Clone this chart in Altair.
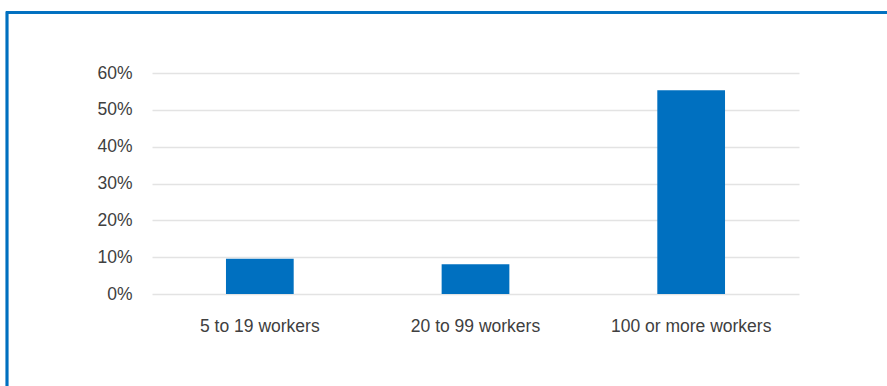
import altair as alt
import pandas as pd

categories = ["5 to 19 workers", "20 to 99 workers", "100 or more workers"]
shares = [0.096, 0.081, 0.553]
tick_values = [0, 0.1, 0.2, 0.3, 0.4, 0.5, 0.6]

df = pd.DataFrame({"category": categories, "share": shares})

BLUE = "#0070C0"
FONT = "Liberation Sans"

bars = alt.Chart(df).mark_bar(color=BLUE).encode(
    x=alt.X("category:N", sort=categories,
            scale=alt.Scale(paddingInner=0.686, paddingOuter=0.343),
            axis=alt.Axis(title=None, labelAngle=0, domain=False, ticks=False,
                          grid=False, labelPadding=23, labelFontSize=17.5,
                          labelFont=FONT, labelColor="#404040")),
    y=alt.Y("share:Q", scale=alt.Scale(domain=[0, 0.6], nice=False),
            axis=alt.Axis(title=None, format=".0%", values=tick_values,
                          domain=False, ticks=False, labelPadding=20,
                          labelFontSize=17.5, labelFont=FONT, labelColor="#404040",
                          grid=True, gridColor="#e3e3e3", gridWidth=1.5)),
)

border_top = alt.Chart(df).mark_rule(color=BLUE, strokeWidth=2.5).encode(
    x=alt.value(-146), x2=alt.value(760), y=alt.value(-60.5)
)
border_left = alt.Chart(df).mark_rule(color=BLUE, strokeWidth=2.5).encode(
    x=alt.value(-145), y=alt.value(-61.5), y2=alt.value(330)
)

chart = (bars + border_top + border_left).properties(
    width=647, height=221,
    background="white",
    autosize=alt.AutoSizeParams(type="none"),
    padding={"left": 152, "top": 73, "right": 88, "bottom": 92},
).configure_view(stroke=None)

chart.save("out.html", embed_options={"renderer": "svg", "actions": False})
